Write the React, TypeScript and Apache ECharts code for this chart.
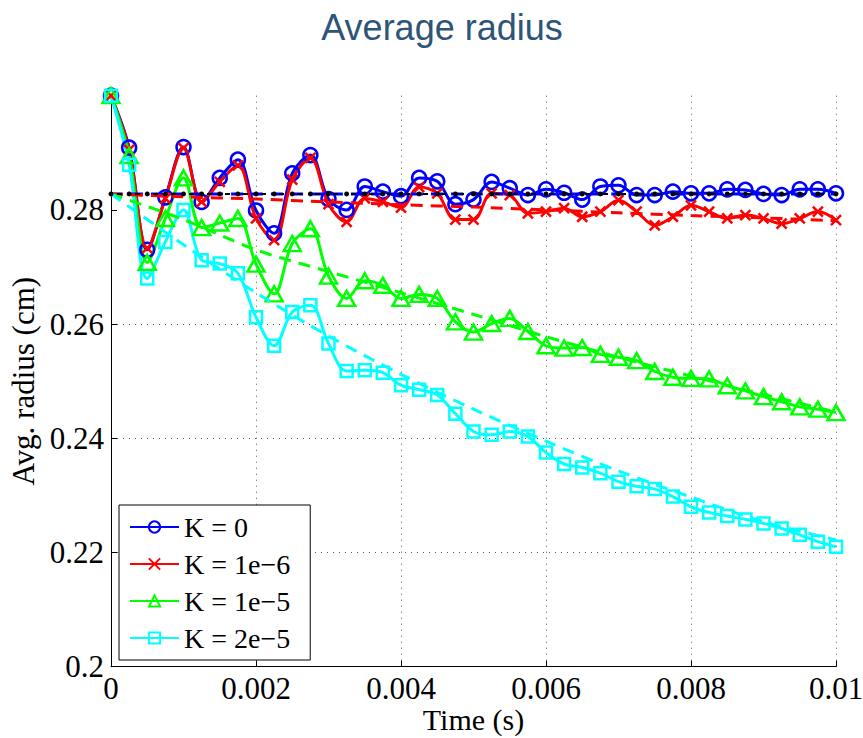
import React, { useEffect, useRef } from "react";
import * as echarts from "echarts";

// ---- data ----
const TIME = [
  0, 0.00025, 0.0005, 0.00075, 0.001, 0.00125, 0.0015, 0.00175, 0.002, 0.00225,
  0.0025, 0.00275, 0.003, 0.00325, 0.0035, 0.00375, 0.004, 0.00425, 0.0045, 0.00475,
  0.005, 0.00525, 0.0055, 0.00575, 0.006, 0.00625, 0.0065, 0.00675, 0.007, 0.00725,
  0.0075, 0.00775, 0.008, 0.00825, 0.0085, 0.00875, 0.009, 0.00925, 0.0095, 0.00975, 0.01,
];

const K0 = [
  0.3, 0.2909, 0.273, 0.2822, 0.291, 0.2814, 0.2856, 0.2888, 0.2799, 0.2759,
  0.2864, 0.2896, 0.2819, 0.28, 0.2841, 0.2832, 0.2824, 0.2856, 0.285, 0.281,
  0.2818, 0.2849, 0.2838, 0.2826, 0.2836, 0.283, 0.2818, 0.2841, 0.2843, 0.2826,
  0.2826, 0.2832, 0.2829, 0.2829, 0.2836, 0.2835, 0.2828, 0.2826, 0.2836, 0.2836, 0.2829,
];

const K1E6 = [
  0.3, 0.2905, 0.2733, 0.282, 0.2908, 0.2814, 0.2849, 0.2878, 0.2785, 0.2747,
  0.2853, 0.2891, 0.281, 0.2779, 0.282, 0.2814, 0.2804, 0.284, 0.2829, 0.2783,
  0.2783, 0.2829, 0.2826, 0.2794, 0.2797, 0.2803, 0.2788, 0.2797, 0.2817, 0.2797,
  0.2773, 0.2788, 0.2808, 0.2797, 0.2785, 0.2791, 0.2785, 0.2776, 0.2785, 0.2797, 0.2782,
];

const K1E5 = [
  0.3, 0.2895, 0.2708, 0.2785, 0.2856, 0.2769, 0.2777, 0.2785, 0.2705, 0.2653,
  0.2741, 0.2767, 0.2684, 0.2645, 0.2676, 0.2668, 0.2645, 0.2652, 0.2645, 0.2604,
  0.2586, 0.2601, 0.261, 0.2587, 0.2562, 0.2558, 0.2559, 0.2547, 0.2542, 0.2536,
  0.2517, 0.2507, 0.2505, 0.2504, 0.2492, 0.2483, 0.2473, 0.2464, 0.2455, 0.2451, 0.2445,
];

const K2E5 = [
  0.3, 0.2879, 0.268, 0.2744, 0.28, 0.2712, 0.2706, 0.2689, 0.2612, 0.2562,
  0.2621, 0.2633, 0.2566, 0.2518, 0.2519, 0.2515, 0.2493, 0.2485, 0.2476, 0.2443,
  0.2412, 0.2406, 0.2412, 0.2403, 0.2375, 0.2355, 0.2349, 0.2339, 0.2324, 0.2316,
  0.2311, 0.2298, 0.228, 0.227, 0.2264, 0.2258, 0.2251, 0.2242, 0.2231, 0.2219, 0.221,
];

// fitted (dashed) curves
const FIT_TIME = [0, 0.001, 0.002, 0.003, 0.004, 0.005, 0.006, 0.007, 0.008, 0.009, 0.01];
const FIT_K0 = [0.2828, 0.2828, 0.2828, 0.2828, 0.2828, 0.2828, 0.2828, 0.2828, 0.2828, 0.2828, 0.2828];
const FIT_K1E6 = [0.2828, 0.2823, 0.2819, 0.2814, 0.2809, 0.2805, 0.28, 0.2795, 0.279, 0.2786, 0.2781];
const FIT_K1E5 = [0.2828, 0.2783, 0.273, 0.2692, 0.2655, 0.2617, 0.2578, 0.2542, 0.2509, 0.2477, 0.2446];
const FIT_K2E5 = [0.2828, 0.2739, 0.2655, 0.2579, 0.2512, 0.2451, 0.2395, 0.2343, 0.2297, 0.2254, 0.2222];
const REF_LEVEL = 0.2828;

const X_TICKS = [0, 0.002, 0.004, 0.006, 0.008, 0.01];
const Y_TICKS = [0.2, 0.22, 0.24, 0.26, 0.28];

const NAMES = ["K = 0", "K = 1e\u22126", "K = 1e\u22125", "K = 2e\u22125"];
const COLORS = ["#0000ff", "#ff0000", "#00ff00", "#00ffff"];

const SERIF = "Liberation Serif, Times New Roman, serif";

function solid(name: string, vals: number[], color: string, symbol: string, symbolSize: any) {
  return {
    name,
    type: "line",
    data: TIME.map((t, i) => [t, vals[i]]),
    smooth: 0.35,
    symbol,
    symbolSize,
    showSymbol: true,
    showAllSymbol: true,
    lineStyle: { color, width: 3 },
    itemStyle: { color: "rgba(0,0,0,0)", borderColor: color, borderWidth: 2.5 },
    emphasis: { disabled: true },
    z: 3,
  };
}

function fit(vals: number[], color: string) {
  return {
    type: "line",
    data: FIT_TIME.map((t, i) => [t, vals[i]]),
    smooth: 0.3,
    symbol: "none",
    lineStyle: { color, width: 3, type: [12, 8] },
    emphasis: { disabled: true },
    z: 4,
  };
}

export default function App() {
  const ref = useRef<HTMLDivElement>(null);
  useEffect(() => {
    document.body.style.margin = "0";
    const chart = echarts.init(ref.current!, null, { renderer: "svg" });
    const axisText = { color: "#000", fontFamily: SERIF, fontSize: 31 };
    const gridLine = { show: true, lineStyle: { color: "#555", width: 1, type: [1, 5] } };
    chart.setOption({
      animation: false,
      backgroundColor: "#fff",
      title: {
        text: "Average radius",
        left: 437,
        top: 4,
        textAlign: "center",
        textStyle: { fontFamily: "Liberation Sans, Arial, sans-serif", fontSize: 36, fontWeight: "normal", color: "#2E5477" },
      },
      grid: { left: 111, right: 27, top: 95.7, bottom: 71.3, outerBoundsMode: "none" },
      legend: {
        orient: "vertical",
        left: 119,
        top: 505,
        itemWidth: 49,
        itemHeight: 14,
        itemGap: 9,
        padding: [8, 20, 8, 10],
        borderColor: "#000",
        borderWidth: 1,
        borderRadius: 0,
        backgroundColor: "#fff",
        selectedMode: false,
        data: NAMES,
        textStyle: { fontFamily: SERIF, fontSize: 28, color: "#000", lineHeight: 28 },
      },
      xAxis: {
        type: "value",
        min: 0,
        max: 0.01,
        interval: 0.002,
        name: "Time (s)",
        nameLocation: "middle",
        nameGap: 38,
        nameMoveOverlap: false,
        nameTextStyle: { color: "#000", fontFamily: SERIF, fontSize: 30, verticalAlign: "top" },
        axisLine: { show: true, onZero: false, lineStyle: { color: "#000", width: 1 } },
        axisTick: { show: true, inside: true, length: 6, lineStyle: { color: "#000" } },
        axisLabel: {
          ...axisText,
          margin: 6,
          customValues: X_TICKS,
          formatter: (v: number) => String(+v.toFixed(3)),
        },
        splitLine: { ...gridLine, showMinLine: false },
      },
      yAxis: {
        type: "value",
        min: 0.2,
        max: 0.3,
        interval: 0.02,
        name: "Avg. radius (cm)",
        nameLocation: "middle",
        nameGap: 72,
        nameTextStyle: { color: "#000", fontFamily: SERIF, fontSize: 31 },
        axisLine: { show: true, onZero: false, lineStyle: { color: "#000", width: 1 } },
        axisTick: { show: true, inside: true, length: 6, customValues: Y_TICKS, lineStyle: { color: "#000" } },
        axisLabel: {
          ...axisText,
          margin: 7,
          customValues: Y_TICKS,
          formatter: (v: number) => String(+v.toFixed(2)),
        },
        splitLine: { ...gridLine, showMinLine: false, showMaxLine: false },
      },
      series: [
        solid(NAMES[0], K0, COLORS[0], "circle", 14),
        solid(NAMES[1], K1E6, COLORS[1], "path://M0,0L10,10M10,0L0,10", 10),
        solid(NAMES[2], K1E5, COLORS[2], "triangle", [17, 15]),
        solid(NAMES[3], K2E5, COLORS[3], "rect", 12),
        fit(FIT_K0, COLORS[0]),
        fit(FIT_K1E6, COLORS[1]),
        fit(FIT_K1E5, COLORS[2]),
        fit(FIT_K2E5, COLORS[3]),
        {
          type: "line",
          data: TIME.map((t) => [t, REF_LEVEL]),
          symbol: "circle",
          symbolSize: 5,
          showAllSymbol: true,
          itemStyle: { color: "#000" },
          lineStyle: { color: "#000", width: 2, type: [5, 13], dashOffset: -6.5 },
          emphasis: { disabled: true },
          z: 5,
        },
      ],
    });
    return () => chart.dispose();
  }, []);
  return <div ref={ref} style={{ width: 863, height: 738 }} />;
}
